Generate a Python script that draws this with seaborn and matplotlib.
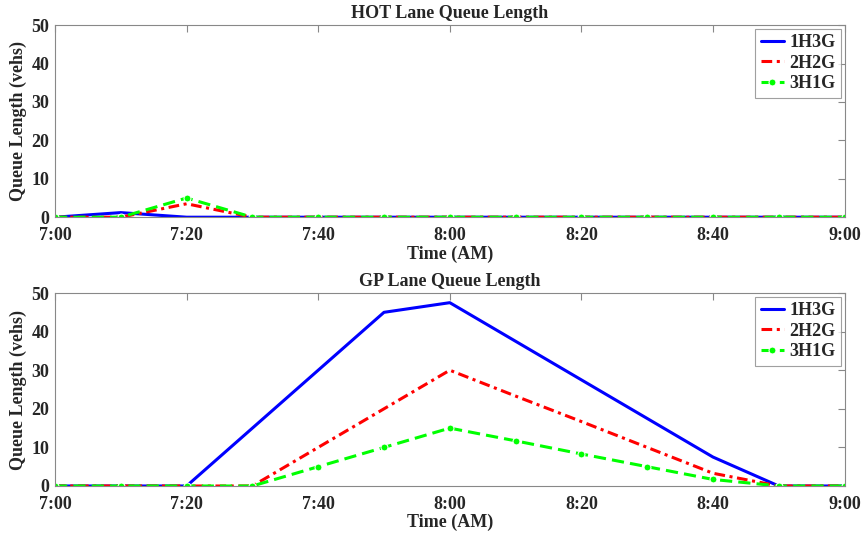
import matplotlib
matplotlib.use("Agg")
import matplotlib.pyplot as plt
import seaborn as sns
import pandas as pd

sns.set_style("white")
plt.rcParams['font.family'] = ['Liberation Serif', 'DejaVu Serif']
plt.rcParams['font.weight'] = 'bold'

minutes = [0, 10, 20, 30, 40, 50, 60, 70, 80, 90, 100, 110, 120]
tick_pos = [0, 20, 40, 60, 80, 100, 120]
tick_labels = ["7:00", "7:20", "7:40", "8:00", "8:20", "8:40", "9:00"]

hot_1h3g = [0, 1.2, 0, 0, 0, 0, 0, 0, 0, 0, 0, 0, 0]
hot_2h2g = [0, 0, 3.5, 0, 0, 0, 0, 0, 0, 0, 0, 0, 0]
hot_3h1g = [0, 0, 5, 0, 0, 0, 0, 0, 0, 0, 0, 0, 0]

gp_1h3g = [0, 0, 0, 15, 30, 45, 47.5, 37.5, 27.5, 17.5, 7.5, 0, 0]
gp_2h2g = [0, 0, 0, 0, 10, 20, 30, 23.3, 16.7, 10, 3.3, 0, 0]
gp_3h1g = [0, 0, 0, 0, 5, 10, 15, 11.7, 8.3, 5, 1.7, 0, 0]

series_names = ["1H3G", "2H2G", "3H1G"]
colors = ["#0000ff", "#ff0000", "#00ff00"]
styles = [dict(linestyle='-', marker=None),
          dict(dashes=(3.5, 1.5, 1, 1.5), marker=None),
          dict(dashes=(4, 2), marker='o', markersize=5)]

fig = plt.figure(figsize=(8.61, 5.35), dpi=100)
ax1 = fig.add_axes([0.0639, 0.594, 0.917, 0.359])
ax2 = fig.add_axes([0.0639, 0.0916, 0.917, 0.3607])

def draw(ax, data, title):
    for name, vals, c, st in zip(series_names, data, colors, styles):
        df = pd.DataFrame({"t": minutes, "q": vals})
        sns.lineplot(data=df, x="t", y="q", ax=ax, color=c, linewidth=2.2,
                     label=name, **st)
    ax.set_xlim(0, 120)
    ax.set_ylim(0, 50)
    ax.set_xticks(tick_pos)
    ax.set_xticklabels(tick_labels)
    ax.set_yticks([0, 10, 20, 30, 40, 50])
    ax.tick_params(direction='in', length=5, color='#888888', labelsize=13,
                   top=True, right=True)
    ax.tick_params(axis='x', pad=7)
    ax.tick_params(axis='y', pad=4)
    for lab in ax.get_xticklabels() + ax.get_yticklabels():
        lab.set_fontweight('bold')
    for sp in ax.spines.values():
        sp.set_color('#888888')
        sp.set_linewidth(0.8)
    ax.set_xlabel("Time (AM)", fontsize=13, fontweight='bold', labelpad=1)
    ax.set_ylabel("Queue Length (vehs)", fontsize=13, fontweight='bold', labelpad=3)
    ax.set_title(title, fontsize=13, fontweight='bold', pad=5)
    leg = ax.legend(loc='upper right', fontsize=13, frameon=True, fancybox=False,
                    handlelength=1.3, borderpad=0.3, labelspacing=0.2,
                    handletextpad=0.3, borderaxespad=0.2, numpoints=1)
    leg.get_frame().set_edgecolor('#888888')
    leg.get_frame().set_linewidth(0.8)
    for t in leg.get_texts():
        t.set_fontweight('bold')

draw(ax1, [hot_1h3g, hot_2h2g, hot_3h1g], "HOT Lane Queue Length")
draw(ax2, [gp_1h3g, gp_2h2g, gp_3h1g], "GP Lane Queue Length")

fig.savefig("out.png", dpi=100)
